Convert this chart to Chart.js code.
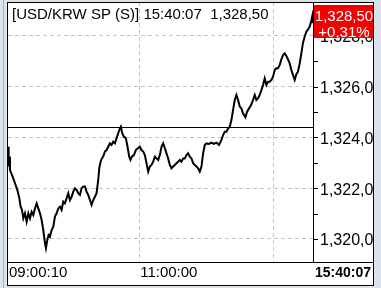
<!DOCTYPE html>
<html><head><meta charset="utf-8">
<script src="https://cdn.jsdelivr.net/npm/chart.js@4/dist/chart.umd.min.js"></script>
<style>html,body{margin:0;padding:0;background:#fff}canvas{display:block}</style>
</head><body>
<canvas id="c" width="381" height="288"></canvas>
<script>
const symbol = "[USD/KRW SP (S)]";
const lastTime = "15:40:07";
const lastPrice = 1328.50;
const changePct = "+0,31%";
const prevClose = [1324.40];
const timeLabels = ["09:00:10", "11:00:00", "15:40:07"];
const timeTicks = [0, 394, 798, 916];
const yTicks = [1320, 1322, 1324, 1326, 1328];
const yMinor = [1321, 1323, 1325, 1327];
const seq = [0,2,4,6,14,21,28,34,38,42,46,51,56,61,66,71,76,81,86,91,96,101,106,111,114,118,122,126,131,136,141,146,151,156,161,166,171,176,181,186,191,196,201,206,211,216,221,226,231,236,241,246,251,256,261,266,271,274,278,282,286,291,296,301,306,311,316,321,326,331,336,339,343,348,354,359,364,368,372,378,384,390,396,401,406,411,416,421,426,431,436,441,446,451,456,461,466,471,476,481,486,491,496,501,506,511,516,521,526,531,536,541,546,551,556,561,566,571,576,581,586,591,596,604,611,618,626,634,641,646,651,656,661,666,671,676,681,686,691,696,701,706,713,718,724,730,736,741,746,751,756,761,766,771,776,781,786,791,796,801,806,811,816,821,826,831,836,841,846,851,856,861,866,871,876,881,886,891,896,901,906,911,914,916];
const prices = [1323.63,1322.85,1323.24,1322.71,1322.45,1322.19,1321.93,1321.60,1321.27,1321.14,1320.81,1321.01,1320.68,1321.01,1320.81,1321.07,1320.94,1321.20,1321.40,1321.20,1321.01,1320.75,1320.35,1319.83,1319.63,1319.96,1320.15,1320.09,1320.35,1320.48,1320.88,1321.01,1321.20,1321.27,1321.14,1321.47,1321.40,1321.60,1321.80,1321.53,1321.66,1321.86,1321.99,1321.93,1321.80,1321.73,1321.99,1322.06,1322.06,1321.86,1321.73,1321.53,1321.34,1321.53,1321.66,1321.80,1322.32,1322.78,1323.04,1323.17,1323.24,1323.44,1323.50,1323.63,1323.76,1323.70,1323.83,1323.76,1323.96,1324.16,1324.35,1324.42,1324.16,1324.03,1323.96,1323.63,1323.24,1323.11,1323.24,1323.30,1323.50,1323.57,1323.63,1323.50,1323.44,1323.30,1322.98,1322.65,1322.85,1322.91,1323.04,1323.24,1323.17,1323.11,1323.30,1323.63,1323.76,1323.57,1323.37,1323.17,1322.91,1322.78,1322.85,1322.91,1322.98,1323.04,1323.11,1323.04,1323.17,1323.17,1323.30,1323.37,1323.24,1323.17,1322.98,1322.91,1322.85,1322.78,1322.65,1322.85,1323.37,1323.70,1323.76,1323.74,1323.79,1323.74,1323.79,1323.70,1323.90,1324.09,1324.22,1324.22,1324.35,1324.42,1324.68,1325.08,1325.47,1325.67,1325.47,1325.21,1325.14,1324.94,1324.79,1325.01,1325.14,1325.27,1325.47,1325.67,1325.47,1325.54,1325.67,1325.86,1326.06,1326.32,1326.06,1326.19,1326.19,1326.26,1326.39,1326.65,1326.72,1326.72,1326.85,1327.07,1327.24,1327.31,1327.20,1327.07,1326.91,1326.65,1326.45,1326.26,1326.49,1326.59,1326.91,1327.31,1327.73,1327.96,1328.16,1328.25,1328.36,1328.59,1328.78,1328.50];

function fmt(v){ return v.toFixed(2).replace('.', ',').replace(/^(\d)(\d{3})/, '$1,$2'); }

const FONT = '"Liberation Sans", Arial, sans-serif';

const framePlugin = {
  id: 'frame',
  beforeDraw(chart){
    const ctx = chart.ctx;
    ctx.save();
    ctx.fillStyle = '#dce3ec';
    ctx.fillRect(0,0,381,288);
    ctx.fillStyle = '#fff';
    ctx.fillRect(8,2,365,283);
    ctx.fillStyle = '#a9b3c2';
    ctx.fillRect(3,0,1,288);
    ctx.restore();
  },
  afterDatasetsDraw(chart){
    const ctx = chart.ctx;
    const x = chart.scales.x, y = chart.scales.y;
    const a = chart.chartArea;
    ctx.save();
    // previous close line
    ctx.strokeStyle = '#000'; ctx.lineWidth = 1;
    const py = Math.round(y.getPixelForValue(prevClose[0])) + 0.5;
    ctx.beginPath(); ctx.moveTo(a.left, py); ctx.lineTo(a.right, py); ctx.stroke();
    // frame lines
    ctx.beginPath();
    ctx.moveTo(7.5, 2); ctx.lineTo(7.5, 286);
    ctx.moveTo(7, 2.5); ctx.lineTo(374, 2.5);
    ctx.moveTo(373.5, 2); ctx.lineTo(373.5, 286);
    ctx.moveTo(7, 285.5); ctx.lineTo(374, 285.5);
    ctx.moveTo(7, 262.5); ctx.lineTo(374, 262.5);
    ctx.moveTo(313.5, 2); ctx.lineTo(313.5, 262);
    ctx.stroke();
    // right axis ticks
    [...yTicks, ...yMinor].forEach(v => {
      const t = Math.round(y.getPixelForValue(v)) + 0.5;
      ctx.beginPath(); ctx.moveTo(313, t); ctx.lineTo(318, t); ctx.stroke();
    });
    // y labels
    ctx.fillStyle = '#000';
    ctx.font = '16px ' + FONT;
    ctx.textAlign = 'left'; ctx.textBaseline = 'alphabetic';
    ctx.beginPath(); ctx.rect(314, 3, 59, 259); ctx.save(); ctx.clip();
    yTicks.forEach(v => {
      ctx.fillText(fmt(v), 320, y.getPixelForValue(v) + 6.5);
    });
    ctx.restore();
    // red price box
    ctx.fillStyle = '#f40000';
    ctx.fillRect(314, 5, 59, 33);
    ctx.fillStyle = '#fff';
    ctx.font = '15px ' + FONT;
    ctx.textAlign = 'center';
    ctx.fillText(fmt(lastPrice), 344, 20.5);
    ctx.fillText(changePct, 344, 36.5);
    // title
    ctx.fillStyle = '#000';
    ctx.textAlign = 'left';
    ctx.fillText(symbol + ' ' + lastTime + '  ' + fmt(lastPrice), 12, 18.5);
    // time labels
    ctx.fillText(timeLabels[0], x.getPixelForValue(timeTicks[0]) + 1, 277);
    ctx.fillText(timeLabels[1], x.getPixelForValue(timeTicks[1]) + 1, 277);
    ctx.font = 'bold 14px ' + FONT;
    ctx.textAlign = 'right';
    ctx.fillText(timeLabels[2], 371, 277);
    ctx.restore();
  }
};

new Chart(document.getElementById('c'), {
  type: 'line',
  data: { datasets: [{
    data: seq.map((s, i) => ({x: s, y: prices[i]})),
    borderColor: '#000', borderWidth: 2, pointRadius: 0, tension: 0, fill: false
  }]},
  options: {
    responsive: false, animation: false, devicePixelRatio: 1,
    layout: { padding: { left: 8, right: 68, top: 2, bottom: 26 } },
    plugins: { legend: { display: false }, tooltip: { enabled: false } },
    scales: {
      x: { type: 'linear', min: 0, max: 916,
        afterBuildTicks: s => { s.ticks = timeTicks.slice(1, 3).map(v => ({value: v})); },
        afterFit: s => { s.height = 0; },
        ticks: { display: false },
        grid: { color: '#c4c4c4', drawTicks: false, lineWidth: 1 },
        border: { display: false, dash: [4, 3] } },
      y: { type: 'linear', position: 'right', min: 1319.09, max: 1329.33,
        afterBuildTicks: s => { s.ticks = yTicks.map(v => ({value: v})); },
        afterFit: s => { s.width = 0; },
        ticks: { display: false },
        grid: { color: '#c4c4c4', drawTicks: false, lineWidth: 1 },
        border: { display: false, dash: [4, 3] } }
    }
  },
  plugins: [framePlugin]
});
</script>
</body></html>
